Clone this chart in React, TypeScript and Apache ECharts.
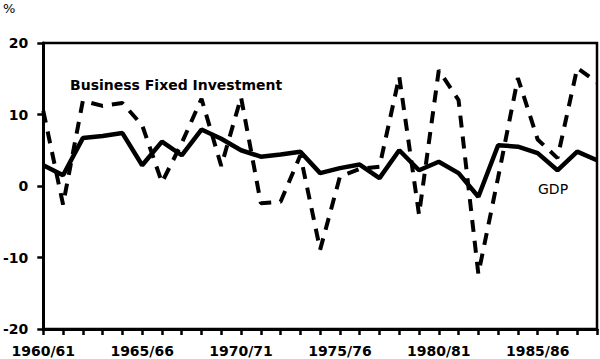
import React, { useEffect, useRef } from "react";
import * as echarts from "echarts";

const years = [
  1960, 1961, 1962, 1963, 1964, 1965, 1966, 1967, 1968, 1969, 1970, 1971, 1972, 1973, 1974,
  1975, 1976, 1977, 1978, 1979, 1980, 1981, 1982, 1983, 1984, 1985, 1986, 1987, 1988,
];
const gdp = [
  2.9, 1.5, 6.7, 7.0, 7.4, 2.9, 6.2, 4.3, 7.9, 6.6, 5.0, 4.1, 4.4, 4.8, 1.8,
  2.5, 3.0, 1.1, 5.0, 2.2, 3.4, 1.8, -1.5, 5.7, 5.5, 4.6, 2.2, 4.8, 3.6,
];
const investment = [
  10.5, -2.6, 11.9, 11.2, 11.6, 8.5, 0.5, 6.0, 12.2, 2.8, 12.4, -2.4, -2.2, 4.3, -8.9,
  1.3, 2.4, 2.7, 15.3, -4.0, 16.2, 12.0, -12.3, 1.2, 15.1, 6.5, 3.9, 16.5, 14.5,
];
const yTicks = [-20, -10, 0, 10, 20];
const labelYears = [1960, 1965, 1970, 1975, 1980, 1985];

const FONT = "'DejaVu Sans', 'Liberation Sans', Arial, sans-serif";

export default function App() {
  const ref = useRef<HTMLDivElement>(null);
  useEffect(() => {
    if (!ref.current) return;
    const chart = echarts.init(ref.current, undefined, { renderer: "svg" });
    chart.setOption({
      animation: false,
      backgroundColor: "#ffffff",
      grid: {
        left: 40,
        right: 3,
        top: 43,
        bottom: 30,
        show: true,
        borderColor: "#000",
        borderWidth: 2.5,
      },
      xAxis: {
        type: "value",
        min: 1960,
        max: 1988,
        interval: 1,
        splitLine: { show: false },
        axisLine: { show: true, onZero: false, lineStyle: { color: "#000", width: 3 } },
        axisTick: { show: true, length: 6, lineStyle: { color: "#000", width: 2.5 } },
        axisLabel: {
          margin: 15,
          color: "#000",
          fontFamily: FONT,
          fontWeight: "bold",
          fontSize: 14,
          formatter: (v: number) =>
            labelYears.includes(v) ? `${v}/${String((v + 1) % 100).padStart(2, "0")}` : "",
        },
      },
      yAxis: {
        type: "value",
        min: yTicks[0],
        max: yTicks[yTicks.length - 1],
        interval: 10,
        splitLine: { show: false },
        axisLine: { show: true, onZero: false, lineStyle: { color: "#000", width: 3 } },
        axisTick: { show: true, length: 6, lineStyle: { color: "#000", width: 2.5 } },
        axisLabel: {
          margin: 15,
          color: "#000",
          fontFamily: FONT,
          fontWeight: "bold",
          fontSize: 14,
        },
      },
      series: [
        {
          name: "Business Fixed Investment",
          type: "line",
          symbol: "none",
          data: years.map((y, i) => [y, investment[i]]),
          lineStyle: { color: "#000", width: 4, type: [12, 9], cap: "butt" },
          z: 2,
        },
        {
          name: "GDP",
          type: "line",
          symbol: "none",
          data: years.map((y, i) => [y, gdp[i]]),
          lineStyle: { color: "#000", width: 4.5 },
          z: 3,
        },
      ],
      graphic: [
        {
          type: "text",
          left: 3,
          top: 2,
          style: { text: "%", fill: "#000", font: `13px ${FONT}` },
        },
        {
          type: "text",
          left: 70,
          top: 78,
          style: { text: "Business Fixed Investment", fill: "#000", font: `bold 14px ${FONT}` },
        },
        {
          type: "text",
          left: 538,
          top: 182,
          style: { text: "GDP", fill: "#000", font: `14px ${FONT}` },
        },
      ],
    });
    return () => chart.dispose();
  }, []);
  return (
    <div
      ref={ref}
      style={{ position: "absolute", left: 0, top: 0, width: 600, height: 359 }}
    />
  );
}
